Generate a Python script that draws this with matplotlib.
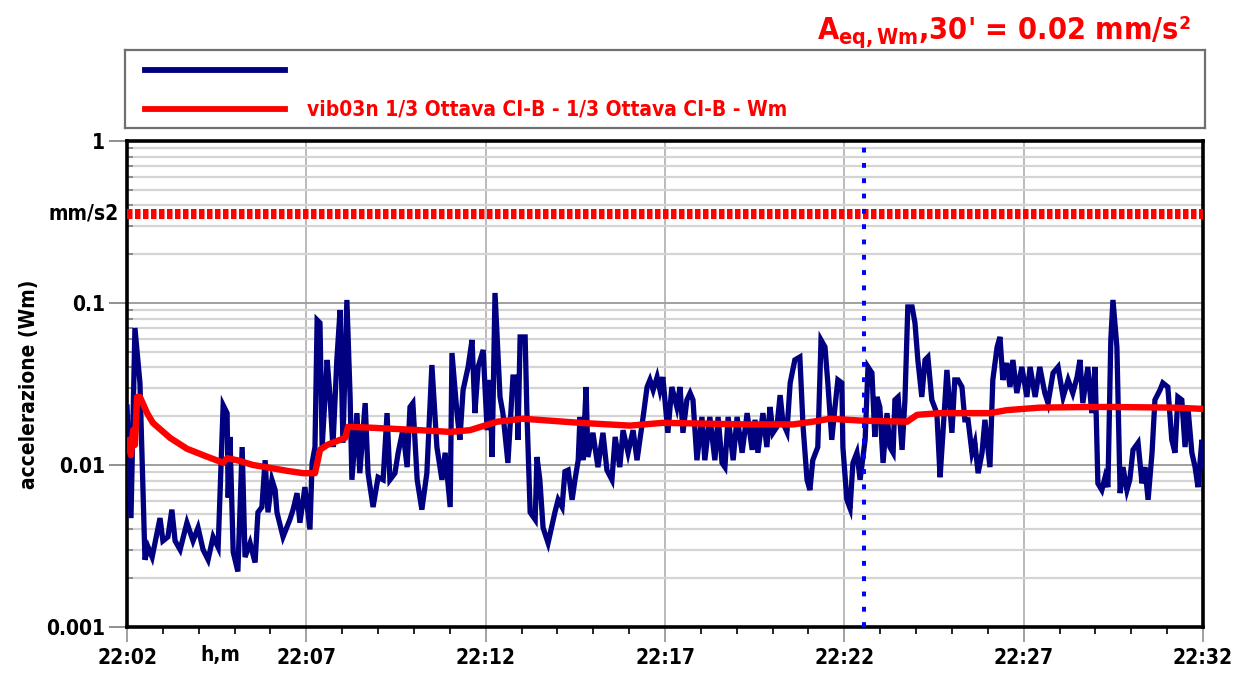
import matplotlib
matplotlib.use('Agg')
import matplotlib.pyplot as plt
from matplotlib.ticker import FixedLocator, LogLocator, NullFormatter, MultipleLocator
from matplotlib.transforms import blended_transform_factory

plt.rcParams['font.family'] = ['DejaVu Sans']
plt.rcParams['font.stretch'] = 'condensed'

# time in minutes after 22:02, acceleration in mm/s2 (Wm weighted)
blue_t = [0.00, 0.11, 0.22, 0.36, 0.50, 0.59, 0.70, 0.78, 0.92, 1.00, 1.14, 1.25, 1.34, 1.48, 1.67,
          1.84, 1.98, 2.12, 2.26, 2.40, 2.54, 2.59, 2.68, 2.79, 2.82, 2.87, 2.96, 3.09, 3.21, 3.29,
          3.43, 3.57, 3.65, 3.76, 3.85, 3.93, 4.04, 4.13, 4.18, 4.35, 4.54, 4.63, 4.74, 4.82, 4.96,
          5.10, 5.16, 5.24, 5.30, 5.38, 5.44, 5.58, 5.66, 5.74, 5.85, 5.94, 6.02, 6.13, 6.22, 6.27,
          6.41, 6.49, 6.64, 6.72, 6.86, 7.00, 7.14, 7.25, 7.33, 7.47, 7.56, 7.69, 7.81, 7.89, 7.97,
          8.09, 8.22, 8.36, 8.50, 8.64, 8.78, 8.87, 9.01, 9.06, 9.20, 9.28, 9.37, 9.51, 9.62, 9.70,
          9.79, 9.93, 10.04, 10.12, 10.18, 10.26, 10.40, 10.48, 10.62, 10.76, 10.87, 10.90, 10.96,
          11.10, 11.15, 11.24, 11.38, 11.43, 11.51, 11.60, 11.74, 11.93, 12.02, 12.13, 12.21, 12.30,
          12.41, 12.49, 12.58, 12.63, 12.71, 12.80, 12.85, 12.99, 13.13, 13.27, 13.38, 13.52, 13.61,
          13.74, 13.83, 13.97, 14.11, 14.22, 14.30, 14.39, 14.50, 14.58, 14.67, 14.78, 14.86, 14.94,
          15.08, 15.19, 15.33, 15.42, 15.50, 15.61, 15.70, 15.78, 15.89, 16.03, 16.11, 16.25, 16.39,
          16.48, 16.59, 16.67, 16.76, 16.90, 17.01, 17.15, 17.29, 17.43, 17.51, 17.59, 17.73, 17.84,
          17.93, 18.01, 18.12, 18.21, 18.29, 18.40, 18.49, 18.62, 18.76, 18.85, 18.96, 19.04, 19.12,
          19.26, 19.35, 19.46, 19.54, 19.65, 19.74, 19.82, 19.93, 19.96, 20.07, 20.16, 20.24, 20.35,
          20.44, 20.58, 20.66, 20.77, 20.85, 20.91, 20.99, 21.08, 21.19, 21.27, 21.36, 21.41, 21.50,
          21.61, 21.69, 21.77, 21.89, 21.97, 22.05, 22.16, 22.25, 22.33, 22.44, 22.58, 22.67, 22.75,
          22.86, 23.00, 23.08, 23.17, 23.28, 23.36, 23.45, 23.56, 23.64, 23.73, 23.84, 23.92, 24.06,
          24.14, 24.26, 24.34, 24.42, 24.53, 24.62, 24.70, 24.81, 24.95, 25.09, 25.18, 25.32, 25.45,
          25.59, 25.68, 25.82, 25.96, 26.10, 26.24, 26.37, 26.49, 26.57, 26.65, 26.79, 26.90, 26.99,
          27.07, 27.18, 27.27, 27.35, 27.43, 27.49, 27.60, 27.69, 27.77, 27.88, 27.96, 28.05, 28.19,
          28.30, 28.38, 28.47, 28.58, 28.66, 28.80, 28.88, 29.02, 29.13, 29.22, 29.30, 29.41, 29.50,
          29.58, 29.69, 29.78, 29.86, 29.97, 30.00]
blue_v = [0.0228, 0.0047, 0.0701, 0.0321, 0.0026, 0.0031, 0.0027, 0.0033, 0.0047, 0.0034, 0.0036,
          0.0053, 0.0034, 0.0030, 0.0044, 0.0034, 0.0041, 0.0030, 0.0026, 0.0036, 0.0031, 0.0063,
          0.0234, 0.0209, 0.0063, 0.0149, 0.0029, 0.0022, 0.0129, 0.0027, 0.0033, 0.0025, 0.0051,
          0.0055, 0.0107, 0.0051, 0.0081, 0.0070, 0.0051, 0.0036, 0.0046, 0.0053, 0.0067, 0.0044,
          0.0073, 0.0040, 0.0103, 0.0129, 0.0785, 0.0753, 0.0129, 0.0445, 0.0263, 0.0129, 0.0445,
          0.0905, 0.0137, 0.1044, 0.0263, 0.0081, 0.0209, 0.0089, 0.0241, 0.0089, 0.0055, 0.0084,
          0.0081, 0.0209, 0.0081, 0.0089, 0.0119, 0.0164, 0.0097, 0.0228, 0.0241, 0.0081, 0.0053,
          0.0089, 0.0414, 0.0129, 0.0081, 0.0119, 0.0055, 0.0491, 0.0209, 0.0143, 0.0290, 0.0403,
          0.0591, 0.0209, 0.0403, 0.0513, 0.0164, 0.0335, 0.0112, 0.1153, 0.0263, 0.0209, 0.0103,
          0.0349, 0.0349, 0.0143, 0.0617, 0.0617, 0.0209, 0.0051, 0.0046, 0.0112, 0.0081, 0.0041,
          0.0033, 0.0051, 0.0061, 0.0055, 0.0091, 0.0093, 0.0061, 0.0081, 0.0107, 0.0198, 0.0107,
          0.0303, 0.0112, 0.0158, 0.0097, 0.0158, 0.0093, 0.0081, 0.0149, 0.0097, 0.0164, 0.0119,
          0.0164, 0.0107, 0.0143, 0.0198, 0.0303, 0.0335, 0.0290, 0.0349, 0.0290, 0.0349, 0.0158,
          0.0303, 0.0228, 0.0303, 0.0158, 0.0252, 0.0278, 0.0252, 0.0107, 0.0198, 0.0107, 0.0198,
          0.0107, 0.0198, 0.0103, 0.0097, 0.0198, 0.0107, 0.0198, 0.0119, 0.0209, 0.0124, 0.0190,
          0.0119, 0.0209, 0.0129, 0.0228, 0.0158, 0.0172, 0.0270, 0.0182, 0.0160, 0.0321, 0.0445,
          0.0464, 0.0172, 0.0081, 0.0070, 0.0107, 0.0129, 0.0591, 0.0535, 0.0321, 0.0143, 0.0228,
          0.0335, 0.0321, 0.0129, 0.0061, 0.0054, 0.0103, 0.0119, 0.0081, 0.0143, 0.0403, 0.0370,
          0.0149, 0.0263, 0.0228, 0.0103, 0.0209, 0.0129, 0.0119, 0.0252, 0.0263, 0.0124, 0.0252,
          0.0945, 0.0945, 0.0753, 0.0445, 0.0263, 0.0445, 0.0464, 0.0252, 0.0209, 0.0084, 0.0158,
          0.0386, 0.0158, 0.0335, 0.0335, 0.0303, 0.0190, 0.0190, 0.0119, 0.0137, 0.0089, 0.0119,
          0.0190, 0.0097, 0.0335, 0.0535, 0.0617, 0.0335, 0.0426, 0.0303, 0.0445, 0.0278, 0.0403,
          0.0263, 0.0403, 0.0263, 0.0403, 0.0278, 0.0241, 0.0370, 0.0403, 0.0263, 0.0335, 0.0278,
          0.0349, 0.0445, 0.0241, 0.0403, 0.0209, 0.0403, 0.0077, 0.0070, 0.0084, 0.0073, 0.0591,
          0.1044, 0.0535, 0.0067, 0.0097, 0.0070, 0.0081, 0.0124, 0.0137, 0.0077, 0.0097, 0.0061,
          0.0119, 0.0252, 0.0290, 0.0321, 0.0303, 0.0143, 0.0119, 0.0263, 0.0252, 0.0129, 0.0228,
          0.0119, 0.0097, 0.0073, 0.0143, 0.0097]

red_t = [0.00, 0.06, 0.11, 0.17, 0.22, 0.28, 0.36, 0.56, 0.72, 1.20, 1.67, 2.12, 2.59, 2.68, 2.79,
         3.07, 3.51, 3.99, 4.46, 4.91, 5.24, 5.32, 5.38, 5.58, 5.94, 6.08, 6.16, 6.77, 8.17, 9.01,
         9.56, 10.32, 11.04, 12.63, 14.02, 14.94, 17.29, 18.57, 19.12, 19.60, 20.44, 21.75, 22.03,
         22.67, 24.06, 24.53, 25.45, 26.85, 27.49, 29.16, 30.00]
red_v = [0.0124, 0.0143, 0.0115, 0.0164, 0.0133, 0.0263, 0.0263, 0.0209, 0.0182, 0.0147, 0.0126,
         0.0115, 0.0105, 0.0103, 0.0110, 0.0107, 0.0100, 0.0096, 0.0092, 0.0089, 0.0089, 0.0107,
         0.0124, 0.0133, 0.0143, 0.0147, 0.0172, 0.0170, 0.0164, 0.0160, 0.0164, 0.0185, 0.0193,
         0.0182, 0.0175, 0.0182, 0.0178, 0.0178, 0.0185, 0.0193, 0.0188, 0.0185, 0.0204, 0.0209,
         0.0209, 0.0218, 0.0226, 0.0228, 0.0228, 0.0226, 0.0222]

limit_value = 0.355
cursor_t = 20.55
tick_minutes = [0, 5, 10, 15, 20, 25, 30]
tick_labels = ['22:02', '22:07', '22:12', '22:17', '22:22', '22:27', '22:32']
y_ticks = [0.001, 0.01, 0.1, 1]
y_labels = ['0.001', '0.01', '0.1', '1']
legend_label = 'vib03n 1/3 Ottava CI-B - 1/3 Ottava CI-B - Wm'

fig = plt.figure(figsize=(12.43, 6.73), dpi=100)
ax = fig.add_axes([0.1022, 0.0684, 0.8656, 0.7221])
ax.set_yscale('log')
ax.set_xlim(0, 30)
ax.set_ylim(0.001, 1)

# grid
ax.set_axisbelow(True)
ax.xaxis.grid(True, which='major', color='#a8a8a8', lw=1.1)
ax.yaxis.grid(True, which='major', color='#a0a0a0', lw=1.4)
ax.yaxis.grid(True, which='minor', color='#d4d4d4', lw=1.6)

blue_line, = ax.plot(blue_t, blue_v, color='#000080', lw=3.8, solid_joinstyle='miter', zorder=3)
red_line, = ax.plot(red_t, red_v, color='#ff0000', lw=4.6, zorder=4)
ax.axhline(limit_value, color='#ff0000', lw=7.2, ls=(0, (0.55, 0.25)), dash_capstyle='butt', zorder=5)
ax.axvline(cursor_t, color='#0000ff', lw=2.9, ls=(0, (1.2, 2.6)), dash_capstyle='butt', zorder=5)

# ticks
ax.xaxis.set_major_locator(FixedLocator(tick_minutes))
ax.set_xticklabels(tick_labels)
ax.xaxis.set_minor_locator(MultipleLocator(1))
ax.yaxis.set_major_locator(FixedLocator(y_ticks))
ax.set_yticklabels(y_labels)
ax.yaxis.set_minor_locator(LogLocator(base=10, subs=range(2, 10)))
ax.yaxis.set_minor_formatter(NullFormatter())
ax.tick_params(axis='x', which='major', length=11, width=1.2, color='#909090', pad=4,
               labelsize=15)
ax.tick_params(axis='x', which='minor', length=5, width=1.2, color='black')
ax.tick_params(axis='y', which='major', length=13, width=1.4, color='#909090', pad=3,
               labelsize=15)
ax.tick_params(axis='y', which='minor', direction='in', length=4, width=1.2, color='#808080')
for lab in ax.get_xticklabels() + ax.get_yticklabels():
    lab.set_fontweight('bold')

for sp in ax.spines.values():
    sp.set_linewidth(2.6)
    sp.set_color('black')

trans_y = blended_transform_factory(ax.transAxes, ax.transData)
ax.text(-0.008, limit_value, 'mm/s2', transform=trans_y, ha='right', va='center',
        fontsize=15, fontweight='bold')
trans_x = blended_transform_factory(ax.transData, ax.transAxes)
ax.text(2.6, -0.037, 'h,m', transform=trans_x, ha='center', va='top', fontsize=15,
        fontweight='bold')
ax.set_ylabel('accelerazione (Wm)', fontsize=15, fontweight='bold', labelpad=5)

# legend box
lax = fig.add_axes([0.1006, 0.8098, 0.8687, 0.1159])
lax.set_xticks([])
lax.set_yticks([])
for sp in lax.spines.values():
    sp.set_color('#707070')
    sp.set_linewidth(1.6)
leg = lax.legend([blue_line, red_line], [' ', legend_label], loc='upper left',
                 bbox_to_anchor=(0.0186, 0.857), frameon=False, borderpad=0,
                 borderaxespad=0, fontsize=15, handlelength=6.72, handletextpad=1.05,
                 labelspacing=0.9)
leg.get_texts()[1].set_color('red')
leg.get_texts()[1].set_fontweight('bold')
for h in leg.legend_handles:
    h.set_linewidth(4.2)

fig.text(0.958, 0.942, r"$\mathregular{A_{eq,Wm}}$,30' = 0.02 mm/s²", color='red',
         ha='right', va='baseline', fontsize=22, fontweight='bold')

fig.savefig('out.png', dpi=100)
